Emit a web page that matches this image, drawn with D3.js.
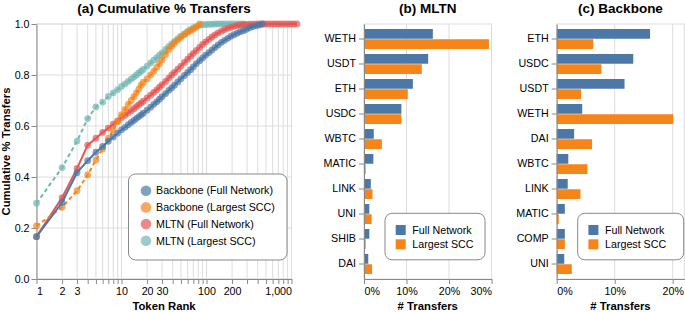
<!DOCTYPE html>
<html>
<head>
<meta charset="utf-8">
<script src="https://cdn.jsdelivr.net/npm/d3@7"></script>
<style>
body { margin: 0; background: #fff; }
svg { font-family: "Liberation Sans", Arial, sans-serif; }
</style>
</head>
<body>
<svg id="chart" width="685" height="312"></svg>
<script>
// ---- panel (a) data: cumulative share of transfers by token rank
const ranks = [1,2,3,4,5,6,7,8,9,10,11,12,13,14,15,16,17,18,
    20,22,24,26,28,30,33,36,39,42,46,50,55,60,65,70,76,83,90,98,107,116,126,137,
    150,163,178,194,211,230,250,272,296,322,351,382,416,453,493,537,585,637,693,755,822,895,975,1062,1156];

const backboneFull = [0.166,0.30,0.417,0.464,0.497,0.52,0.54,0.557,0.572,0.585,0.595,0.605,0.614,0.622,0.63,0.637,0.644,0.65,
    0.662,0.674,0.685,0.695,0.705,0.715,0.727,0.74,0.75,0.76,0.773,0.785,0.798,0.81,0.821,0.832,0.845,0.856,
    0.867,0.878,0.888,0.898,0.908,0.918,0.928,0.936,0.944,0.952,0.958,0.964,0.97,0.974,0.979,0.985,0.99,0.993,
    0.996,1.0];
const backboneScc = [0.208,0.281,0.346,0.408,0.467,0.51,0.552,0.585,0.617,0.645,0.665,0.685,0.70,0.715,0.73,0.745,0.76,0.772,
    0.785,0.80,0.815,0.83,0.845,0.86,0.88,0.90,0.913,0.925,0.937,0.948,0.958,0.967,0.974,0.98,0.988,1.0];
const mltnFull = [0.166,0.319,0.434,0.525,0.552,0.575,0.592,0.607,0.62,0.633,0.642,0.652,0.66,0.668,0.676,0.684,0.69,0.697,
    0.71,0.721,0.732,0.742,0.752,0.762,0.775,0.788,0.80,0.81,0.823,0.835,0.849,0.862,0.874,0.885,0.896,0.908,
    0.92,0.93,0.94,0.949,0.957,0.965,0.972,0.978,0.983,0.987,0.991,0.994,0.996,0.997,0.998,0.999,0.999,1.0,
    1,1,1,1,1,1,1,1,1,1,1,1,1];
const mltnScc = [0.297,0.437,0.541,0.629,0.675,0.694,0.716,0.73,0.743,0.755,0.765,0.775,0.784,0.792,0.80,0.808,0.815,0.822,
    0.835,0.847,0.858,0.868,0.878,0.887,0.90,0.912,0.922,0.932,0.943,0.952,0.962,0.971,0.978,0.985,0.991,0.995,
    0.997,0.998,0.999,0.999,1.0,1.0,1,1,1,1,1,1,1,1];

const seriesNames = ["Backbone (Full Network)", "Backbone (Largest SCC)", "MLTN (Full Network)", "MLTN (Largest SCC)"];
const seriesValues = [backboneFull, backboneScc, mltnFull, mltnScc];
const seriesColors = ["#4c78a8", "#f58518", "#e45756", "#72b7b2"];
const seriesDashed = [false, true, false, true];
const rankLabels = [1, 2, 3, 10, 20, 30, 100, 200, 1000];

// ---- panels (b) and (c): share of transfers per token
const mltnTokens = ["WETH","USDT","ETH","USDC","WBTC","MATIC","LINK","UNI","SHIB","DAI"];
const mltnFullShare = [0.162,0.151,0.115,0.088,0.023,0.022,0.016,0.0125,0.0125,0.010];
const mltnSccShare = [0.294,0.136,0.103,0.088,0.042,0.004,0.020,0.018,0.004,0.019];

const backboneTokens = ["ETH","USDC","USDT","WETH","DAI","WBTC","LINK","MATIC","COMP","UNI"];
const backboneFullShare = [0.161,0.132,0.117,0.044,0.030,0.020,0.019,0.014,0.014,0.013];
const backboneSccShare = [0.063,0.077,0.042,0.201,0.061,0.053,0.041,0.0035,0.014,0.026];

const barKeys = ["Full Network", "Largest SCC"];
const barColors = ["#4c78a8", "#f58518"];

const svg = d3.select("svg#chart");
const plotTop = 24, plotBottom = 279;
const fontSize = 10.7;

function styleAxis(g) {
    g.selectAll(".domain").attr("stroke", "#888");
    g.selectAll(".tick line").attr("stroke", "#888");
    g.selectAll(".tick text").attr("fill", "#000").style("font-size", fontSize + "px");
}

function title(text, x) {
    svg.append("text").attr("x", x).attr("y", 12.5)
        .attr("text-anchor", "middle")
        .style("font-size", "13.5px").style("font-weight", "bold")
        .text(text);
}

function axisTitle(text, x, y, rotate) {
    svg.append("text")
        .attr("transform", `translate(${x} ${y})` + (rotate ? " rotate(-90)" : ""))
        .attr("text-anchor", "middle")
        .style("font-size", "11.3px").style("font-weight", "bold")
        .text(text);
}

// ---------------- panel (a)
function drawCumulative() {
    const g = svg.append("g");
    const x = d3.scaleLog().domain([1, 1000]).range([36.5, 291.5]);
    const y = d3.scaleLinear().domain([0, 1]).range([plotBottom, plotTop]);
    const xTicks = x.ticks();

    g.append("g").selectAll("line").data(xTicks).join("line")
        .attr("x1", d => x(d)).attr("x2", d => x(d))
        .attr("y1", plotTop).attr("y2", plotBottom)
        .attr("stroke", "#ddd");
    g.append("g").selectAll("line").data(y.ticks(5)).join("line")
        .attr("x1", x.range()[0]).attr("x2", x.range()[1])
        .attr("y1", d => y(d)).attr("y2", d => y(d))
        .attr("stroke", "#ddd");
    g.append("rect").attr("x", 36.5).attr("y", plotTop)
        .attr("width", 255).attr("height", plotBottom - plotTop)
        .attr("fill", "none").attr("stroke", "#ddd");

    const xAxisG = g.append("g").attr("transform", `translate(0 ${plotBottom})`)
        .call(d3.axisBottom(x).tickValues(xTicks).tickSize(5).tickPadding(3).tickSizeOuter(0)
            .tickFormat(d => rankLabels.includes(Math.round(d)) ? d3.format(",")(Math.round(d)) : ""));
    styleAxis(xAxisG);
    xAxisG.selectAll(".tick text")
        .attr("text-anchor", d => d === 1 ? "start" : (Math.round(d) === 1000 ? "end" : "middle"));

    const yAxisG = g.append("g").attr("transform", `translate(36.5 0)`)
        .call(d3.axisLeft(y).ticks(5).tickSize(5).tickPadding(2).tickSizeOuter(0).tickFormat(d3.format(".1f")));
    styleAxis(yAxisG);

    const line = d3.line().x(d => x(d.rank)).y(d => y(d.value));

    // MLTN drawn first, backbone on top
    for (let i = seriesNames.length - 1; i >= 0; i--) {
        const data = seriesValues[i].map((v, k) => ({ rank: ranks[k], value: v }));
        const sg = g.append("g");
        sg.append("path").datum(data)
            .attr("d", line)
            .attr("fill", "none")
            .attr("stroke", seriesColors[i])
            .attr("stroke-width", 2)
            .attr("stroke-dasharray", seriesDashed[i] ? "4,3" : null);
        sg.selectAll("circle").data(data).join("circle")
            .attr("cx", d => x(d.rank)).attr("cy", d => y(d.value))
            .attr("r", 3.4)
            .attr("fill", seriesColors[i])
            .attr("fill-opacity", 0.7);
    }

    // legend
    const lg = g.append("g");
    lg.append("rect").attr("x", 128.5).attr("y", 174).attr("width", 158.5).attr("height", 86)
        .attr("rx", 7).attr("fill", "#fff").attr("stroke", "#888");
    seriesNames.forEach((name, i) => {
        const cy = 190.7 + i * 16.7;
        lg.append("circle").attr("cx", 146).attr("cy", cy).attr("r", 5.3)
            .attr("fill", seriesColors[i]).attr("opacity", 0.7);
        lg.append("text").attr("x", 156).attr("y", cy).attr("dy", "0.35em")
            .style("font-size", fontSize + "px").text(name);
    });

    title("(a) Cumulative % Transfers", 164);
    axisTitle("Token Rank", 164, 310, false);
    axisTitle("Cumulative % Transfers", 10, 151.5, true);
}

// ---------------- panels (b), (c)
function drawBars(tokens, full, scc, opts) {
    const g = svg.append("g");
    const x = d3.scaleLinear().domain([0, opts.max]).range([opts.x0, opts.x1]);
    const y = d3.scaleBand().domain(tokens).range([plotTop, plotBottom]).paddingInner(0.2).paddingOuter(0.2);
    const ySub = d3.scaleBand().domain(barKeys).range([0, y.bandwidth()]).paddingInner(0.05);

    g.append("g").selectAll("line").data(opts.ticks).join("line")
        .attr("x1", d => x(d)).attr("x2", d => x(d))
        .attr("y1", plotTop).attr("y2", plotBottom)
        .attr("stroke", "#ddd");
    g.append("rect").attr("x", opts.x0).attr("y", plotTop)
        .attr("width", opts.x1 - opts.x0).attr("height", plotBottom - plotTop)
        .attr("fill", "none").attr("stroke", "#ddd");

    const rows = tokens.map((t, i) => ({ token: t, values: [full[i], scc[i]] }));
    g.append("g").selectAll("g").data(rows).join("g")
        .attr("transform", d => `translate(0 ${y(d.token)})`)
        .selectAll("rect").data(d => d.values.map((v, k) => ({ key: barKeys[k], value: v, k })))
        .join("rect")
        .attr("x", x(0))
        .attr("y", d => ySub(d.key))
        .attr("width", d => x(d.value) - x(0))
        .attr("height", ySub.bandwidth())
        .attr("fill", d => barColors[d.k]);

    const xAxisG = g.append("g").attr("transform", `translate(0 ${plotBottom})`)
        .call(d3.axisBottom(x).tickValues(opts.ticks).tickSize(5).tickPadding(3).tickSizeOuter(0)
            .tickFormat(d3.format(".0%")));
    styleAxis(xAxisG);
    xAxisG.selectAll(".tick text")
        .attr("text-anchor", d => d === 0 ? "start" : (d === opts.max ? "end" : "middle"));

    const yAxisG = g.append("g").attr("transform", `translate(${opts.x0} 0)`)
        .call(d3.axisLeft(y).tickSize(5).tickPadding(3).tickSizeOuter(0));
    styleAxis(yAxisG);

    // legend
    const lg = g.append("g");
    lg.append("rect").attr("x", opts.legendX).attr("y", 213.3).attr("width", opts.legendW).attr("height", 46.5)
        .attr("rx", 7).attr("fill", "#fff").attr("stroke", "#888");
    barKeys.forEach((k, i) => {
        const cy = 230 + i * 14.3;
        lg.append("rect").attr("x", opts.legendX + 10.7).attr("y", cy - 5).attr("width", 10).attr("height", 10)
            .attr("fill", barColors[i]);
        lg.append("text").attr("x", opts.legendX + 27.3).attr("y", cy).attr("dy", "0.35em")
            .style("font-size", fontSize + "px").text(k);
    });

    const mid = (opts.x0 + opts.x1) / 2;
    title(opts.title, mid);
    axisTitle("# Transfers", mid, 310, false);
}

drawCumulative();
drawBars(mltnTokens, mltnFullShare, mltnSccShare, {
    title: "(b) MLTN", max: 0.3, ticks: [0, 0.1, 0.2, 0.3],
    x0: 364, x1: 491.5, legendX: 385, legendW: 100
});
drawBars(backboneTokens, backboneFullShare, backboneSccShare, {
    title: "(c) Backbone", max: 0.22, ticks: [0, 0.1, 0.2],
    x0: 556.7, x1: 684.3, legendX: 577.7, legendW: 106
});
</script>
</body>
</html>
